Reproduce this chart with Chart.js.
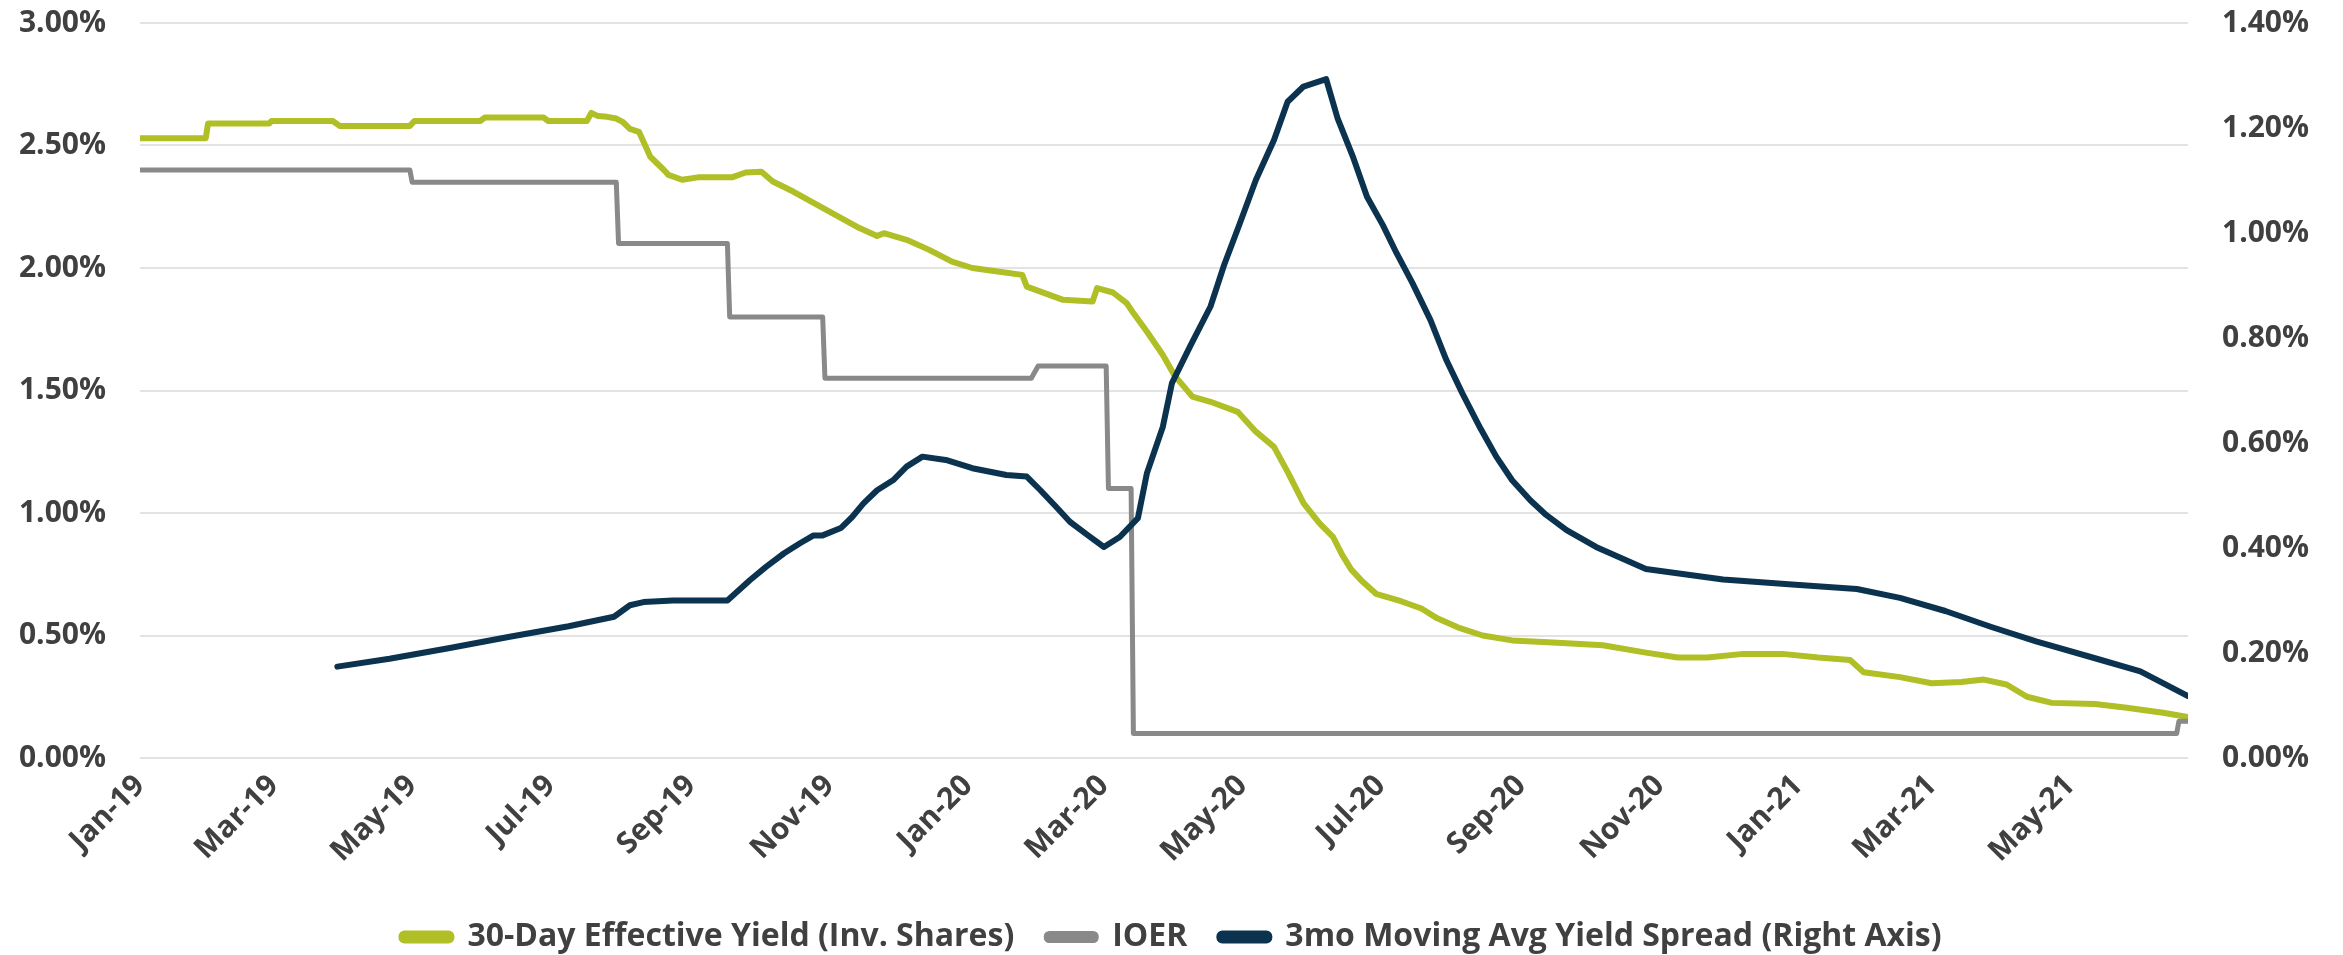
<!DOCTYPE html>
<html>
<head>
<meta charset="utf-8">
<script src="https://cdn.jsdelivr.net/npm/chart.js@4.4.1/dist/chart.umd.min.js"></script>
<style>
  html, body { margin: 0; padding: 0; background: #fff; }
  #wrap { width: 2343px; height: 955px; }
</style>
</head>
<body>
<div id="wrap"><canvas id="myChart" width="2343" height="955"></canvas></div>
<script>
'use strict';

// 30-Day Effective Yield (Inv. Shares), left axis, %
var yieldDates = [
  '2019-01-01','2019-01-30','2019-01-31','2019-02-27','2019-02-28','2019-03-27','2019-03-30','2019-04-30',
  '2019-05-02','2019-05-31','2019-06-02','2019-06-28','2019-06-30','2019-07-17','2019-07-19','2019-07-22',
  '2019-07-26','2019-07-30','2019-08-02','2019-08-05','2019-08-09','2019-08-12','2019-08-14','2019-08-20',
  '2019-08-22','2019-08-28','2019-09-04','2019-09-19','2019-09-25','2019-10-02','2019-10-07','2019-10-16',
  '2019-10-25','2019-11-01','2019-11-14','2019-11-22','2019-11-25','2019-12-05','2019-12-15','2019-12-25',
  '2020-01-03','2020-01-15','2020-01-25','2020-01-27','2020-02-12','2020-02-25','2020-02-27','2020-03-05',
  '2020-03-11','2020-03-14','2020-03-20','2020-03-27','2020-04-01','2020-04-09','2020-04-17','2020-04-29',
  '2020-05-07','2020-05-15','2020-05-21','2020-05-28','2020-06-04','2020-06-10','2020-06-14','2020-06-18',
  '2020-06-23','2020-06-29','2020-07-10','2020-07-19','2020-07-26','2020-08-05','2020-08-15','2020-08-28',
  '2020-09-17','2020-10-07','2020-10-26','2020-11-09','2020-11-22','2020-12-08','2020-12-25','2021-01-10',
  '2021-01-24','2021-01-30','2021-02-15','2021-03-01','2021-03-14','2021-03-24','2021-04-03','2021-04-12',
  '2021-04-23','2021-05-12','2021-05-26','2021-06-11','2021-06-22'
];
var yieldValues = [
  2.53, 2.53, 2.59, 2.59, 2.60, 2.60, 2.58, 2.58,
  2.60, 2.60, 2.614, 2.614, 2.60, 2.60, 2.633, 2.62,
  2.617, 2.61, 2.595, 2.568, 2.556, 2.495, 2.454, 2.40,
  2.38, 2.36, 2.37, 2.37, 2.39, 2.393, 2.353, 2.312,
  2.266, 2.23, 2.164, 2.131, 2.142, 2.115, 2.074, 2.026,
  2.00, 1.985, 1.972, 1.924, 1.87, 1.863, 1.918, 1.90,
  1.857, 1.816, 1.74, 1.645, 1.563, 1.475, 1.454, 1.413,
  1.332, 1.27, 1.168, 1.04, 0.959, 0.903, 0.83, 0.77,
  0.72, 0.67, 0.64, 0.61, 0.57, 0.53, 0.50, 0.48,
  0.47, 0.46, 0.43, 0.41, 0.41, 0.425, 0.425, 0.41,
  0.40, 0.35, 0.33, 0.305, 0.31, 0.32, 0.30, 0.25,
  0.225, 0.22, 0.205, 0.185, 0.167
];

// IOER, left axis, %
var ioerDates = [
  '2019-01-01','2019-04-30','2019-05-01','2019-07-30','2019-07-31','2019-09-17','2019-09-18','2019-10-29',
  '2019-10-30','2020-01-29','2020-02-01','2020-03-02','2020-03-03','2020-03-13','2020-03-14','2021-06-17',
  '2021-06-18','2021-06-22'
];
var ioerValues = [
  2.40, 2.40, 2.35, 2.35, 2.10, 2.10, 1.80, 1.80,
  1.55, 1.55, 1.60, 1.60, 1.10, 1.10, 0.10, 0.10,
  0.15, 0.15
];

// 3mo Moving Avg Yield Spread, right axis, %
var spreadDates = [
  '2019-03-29','2019-04-21','2019-05-17','2019-06-13','2019-07-09','2019-07-29','2019-08-05','2019-08-11',
  '2019-08-24','2019-09-17','2019-09-27','2019-10-04','2019-10-12','2019-10-19','2019-10-25','2019-10-29',
  '2019-11-06','2019-11-11','2019-11-16','2019-11-22','2019-11-29','2019-12-05','2019-12-12','2019-12-23',
  '2020-01-03','2020-01-18','2020-01-27','2020-02-02','2020-02-09','2020-02-15','2020-02-23','2020-03-01',
  '2020-03-08','2020-03-16','2020-03-20','2020-03-27','2020-03-31','2020-04-08','2020-04-17','2020-04-23',
  '2020-04-30','2020-05-07','2020-05-15','2020-05-21','2020-05-28','2020-06-07','2020-06-12','2020-06-19',
  '2020-06-25','2020-07-02','2020-07-08','2020-07-15','2020-07-23','2020-07-30','2020-08-06','2020-08-14',
  '2020-08-21','2020-08-28','2020-09-05','2020-09-12','2020-09-21','2020-10-04','2020-10-26','2020-11-29',
  '2020-12-31','2021-01-27','2021-02-15','2021-03-07','2021-03-27','2021-04-16','2021-05-12','2021-06-01',
  '2021-06-22'
];
var spreadValues = [
  0.174, 0.189, 0.209, 0.231, 0.251, 0.269, 0.291, 0.297,
  0.30, 0.30, 0.339, 0.364, 0.39, 0.409, 0.424, 0.424,
  0.438, 0.459, 0.485, 0.51, 0.529, 0.555, 0.574, 0.567,
  0.552, 0.539, 0.536, 0.51, 0.478, 0.45, 0.424, 0.402,
  0.421, 0.457, 0.543, 0.631, 0.714, 0.784, 0.86, 0.939,
  1.019, 1.101, 1.177, 1.25, 1.279, 1.293, 1.219, 1.143,
  1.069, 1.015, 0.962, 0.905, 0.834, 0.758, 0.695, 0.628,
  0.574, 0.529, 0.491, 0.463, 0.434, 0.402, 0.36, 0.34,
  0.33, 0.322, 0.305, 0.28, 0.25, 0.222, 0.19, 0.165,
  0.118
];

var tickDates = [
  '2019-01-01','2019-03-01','2019-05-01','2019-07-01','2019-09-01','2019-11-01','2020-01-01','2020-03-01',
  '2020-05-01','2020-07-01','2020-09-01','2020-11-01','2021-01-01','2021-03-01','2021-05-01'
];
var tickLabels = [
  'Jan-19','Mar-19','May-19','Jul-19','Sep-19','Nov-19','Jan-20','Mar-20',
  'May-20','Jul-20','Sep-20','Nov-20','Jan-21','Mar-21','May-21'
];
var startDate = '2019-01-01';
var endDate = '2021-06-22';

function dayOf(s) {
  var t = Date.UTC(+s.slice(0, 4), +s.slice(5, 7) - 1, +s.slice(8, 10));
  var t0 = Date.UTC(+startDate.slice(0, 4), +startDate.slice(5, 7) - 1, +startDate.slice(8, 10));
  return Math.round((t - t0) / 86400000);
}

function toPoints(dates, values) {
  return dates.map(function(d, i) { return {x: dayOf(d), y: values[i]}; });
}

var tickDays = tickDates.map(dayOf);
var textColor = '#404040';
var fontFamily = "'Open Sans', 'Noto Sans', sans-serif";
var tickFont = {family: fontFamily, size: 30, weight: 'bold'};
var legendFont = {family: fontFamily, size: 32, weight: 'bold'};
var plotTop = 23;
var plotBottom = 758;
var legendShift = 8;

// keep the plot area where the reference has it
function fitY(width) {
  return function(scale) {
    scale.width = width;
    scale.paddingTop = plotTop;
    scale.paddingBottom = 0;
  };
}

var ctx = document.getElementById('myChart').getContext('2d');
var chart = new Chart(ctx, {
  type: 'line',
  data: {
    datasets: [
      {
        label: '30-Day Effective Yield (Inv. Shares)',
        data: toPoints(yieldDates, yieldValues),
        borderColor: '#afbf25',
        backgroundColor: '#afbf25',
        borderWidth: 6,
        yAxisID: 'y',
        order: 3
      },
      {
        label: 'IOER',
        data: toPoints(ioerDates, ioerValues),
        borderColor: '#898989',
        backgroundColor: '#898989',
        borderWidth: 5,
        yAxisID: 'y',
        order: 2
      },
      {
        label: '3mo Moving Avg Yield Spread (Right Axis)',
        data: toPoints(spreadDates, spreadValues),
        borderColor: '#0b334f',
        backgroundColor: '#0b334f',
        borderWidth: 6,
        yAxisID: 'y1',
        order: 1
      }
    ]
  },
  options: {
    responsive: false,
    devicePixelRatio: 1,
    animation: false,
    elements: {
      point: {radius: 0},
      line: {tension: 0, borderJoinStyle: 'round', borderCapStyle: 'round'}
    },
    layout: {padding: {top: 0, left: 0, right: 0, bottom: -legendShift}},
    plugins: {
      tooltip: {enabled: false},
      legend: {
        position: 'bottom',
        labels: {
          color: textColor,
          font: legendFont,
          boxWidth: 50,
          boxHeight: 7,
          padding: 32,
          useBorderRadius: true,
          borderRadius: 3,
          sort: function(a, b) { return a.datasetIndex - b.datasetIndex; }
        }
      }
    },
    scales: {
      x: {
        type: 'linear',
        min: 0,
        max: dayOf(endDate),
        grid: {display: false},
        border: {display: false},
        afterBuildTicks: function(scale) {
          scale.ticks = tickDays.map(function(v) { return {value: v}; });
        },
        afterFit: function(scale) {
          var legendH = scale.chart.legend ? scale.chart.legend.height : 50;
          scale.height = 955 + legendShift - plotBottom - legendH;
        },
        ticks: {
          color: textColor,
          font: tickFont,
          minRotation: 45,
          maxRotation: 45,
          autoSkip: false,
          padding: 2,
          callback: function(value) {
            var i = tickDays.indexOf(value);
            return i >= 0 ? tickLabels[i] : '';
          }
        }
      },
      y: {
        position: 'left',
        min: 0,
        max: 3,
        grid: {color: '#e3e3e3', lineWidth: 2, drawTicks: false},
        border: {display: false},
        afterFit: fitY(140),
        ticks: {
          color: textColor,
          font: tickFont,
          stepSize: 0.5,
          padding: 34,
          callback: function(v) { return v.toFixed(2) + '%'; }
        }
      },
      y1: {
        position: 'right',
        min: 0,
        max: 1.4,
        grid: {display: false, drawTicks: false},
        border: {display: false},
        afterFit: fitY(155),
        ticks: {
          color: textColor,
          font: tickFont,
          stepSize: 0.2,
          padding: 34,
          callback: function(v) { return v.toFixed(2) + '%'; }
        }
      }
    }
  },
  plugins: [{
    id: 'whiteBg',
    beforeDraw: function(c) {
      var g = c.ctx;
      g.save();
      g.fillStyle = '#ffffff';
      g.fillRect(0, 0, c.width, c.height);
      g.restore();
    }
  }]
});
</script>
</body>
</html>
